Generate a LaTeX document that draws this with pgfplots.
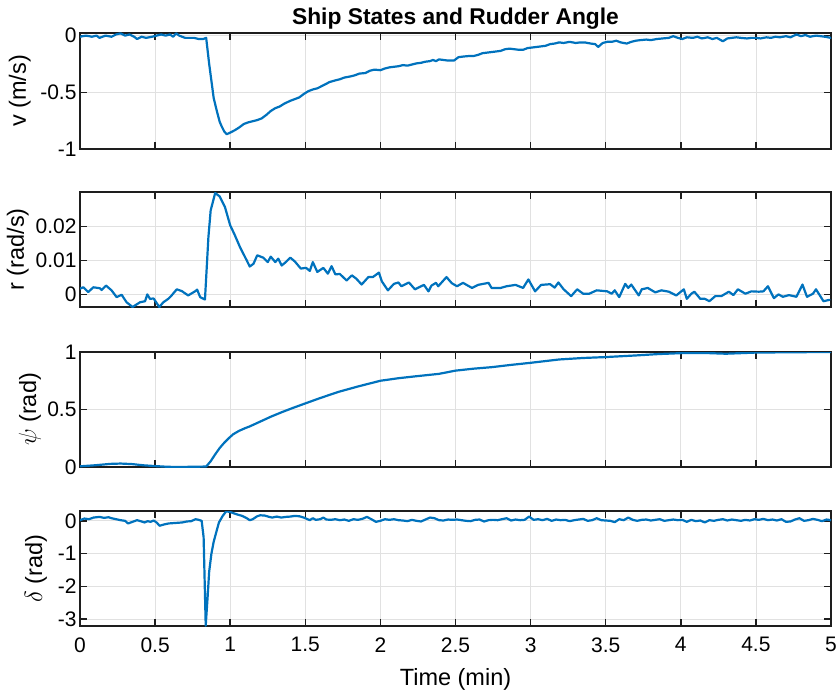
\documentclass[border=0pt]{standalone}
\usepackage{fontspec}
\setmainfont{Liberation Sans}
\usepackage{pgfplots}
\pgfplotsset{compat=1.18}
\definecolor{mblue}{RGB}{0,114,189}
\definecolor{mgrid}{RGB}{225,225,225}
\definecolor{maxis}{RGB}{30,30,30}
\pgfplotsset{
 sline/.style={mblue, line width=2.2pt, line join=round, line cap=round},
 ship/.style={
  scale only axis, width=751pt, height=115pt,
  xmin=0, xmax=5,
  xtick={0,0.5,1,1.5,2,2.5,3,3.5,4,4.5,5},
  grid=major, major grid style={mgrid, line width=0.8pt},
  tick align=inside, major tick length=7pt,
  axis line style={maxis, line width=1.5pt},
  tick style={maxis, line width=1.5pt},
  every tick label/.append style={font=\fontsize{21}{25}\selectfont, text=black},
  xticklabel style={yshift=-8pt},
  label style={font=\fontsize{23.5}{27}\selectfont},
  /pgf/number format/assume math mode=true,
  scaled y ticks=false,
 },
 ylab/.style={ylabel style={at={(axis description cs:#1,0.5)}, anchor=center, rotate=0}},
}
\begin{document}
\begin{tikzpicture}
\useasboundingbox (0,0) rectangle (837pt,689pt);
% ---------------- v ----------------
\begin{axis}[ship, at={(80pt,540pt)}, anchor=south west, height=116pt,
  ymin=-1, ymax=0.023, ytick={-1,-0.5,0}, yticklabels={-1,-0.5,0},
  xticklabels={},
  ylabel={v (m/s)}, ylab=-0.080,
  title={Ship States and Rudder Angle},
  title style={font=\fontsize{22.8}{26}\selectfont\bfseries, at={(0.5,1)}, anchor=base, yshift=2pt}]
\addplot[sline] coordinates {
(0,-0.01) (0.04,0.00) (0.08,-0.01) (0.11,0.00) (0.13,-0.02) (0.17,0.00) (0.21,-0.01) (0.24,0.01)
(0.27,0.02) (0.30,0.00) (0.33,0.01) (0.36,-0.01) (0.38,-0.03) (0.41,-0.01) (0.44,-0.02) (0.48,-0.01)
(0.51,0.00) (0.54,0.01) (0.57,0.00) (0.60,0.01) (0.62,-0.01) (0.64,0.02) (0.66,0.00) (0.70,-0.02)
(0.73,-0.02) (0.76,-0.02) (0.79,-0.03) (0.82,-0.03) (0.84,-0.02) (0.86,-0.25) (0.877,-0.42) (0.89,-0.55)
(0.91,-0.66) (0.93,-0.76) (0.943,-0.80) (0.96,-0.845) (0.977,-0.87) (1.00,-0.855) (1.03,-0.835) (1.06,-0.81)
(1.09,-0.78) (1.12,-0.765) (1.15,-0.755) (1.18,-0.745) (1.21,-0.73) (1.24,-0.70) (1.27,-0.665) (1.30,-0.64)
(1.33,-0.625) (1.36,-0.60) (1.40,-0.575) (1.43,-0.56) (1.46,-0.545) (1.49,-0.515) (1.52,-0.49) (1.55,-0.475)
(1.58,-0.465) (1.61,-0.445) (1.64,-0.425) (1.66,-0.41) (1.70,-0.395) (1.73,-0.385) (1.76,-0.37) (1.80,-0.36)
(1.83,-0.35) (1.86,-0.335) (1.90,-0.33) (1.93,-0.31) (1.96,-0.30) (2.00,-0.305) (2.03,-0.29) (2.06,-0.28)
(2.09,-0.275) (2.12,-0.27) (2.15,-0.26) (2.18,-0.265) (2.21,-0.255) (2.24,-0.245) (2.27,-0.24) (2.30,-0.23)
(2.33,-0.225) (2.35,-0.215) (2.37,-0.225) (2.39,-0.21) (2.42,-0.215) (2.45,-0.22) (2.49,-0.22) (2.52,-0.19)
(2.55,-0.185) (2.59,-0.18) (2.62,-0.18) (2.65,-0.17) (2.68,-0.155) (2.71,-0.15) (2.74,-0.145) (2.77,-0.14)
(2.80,-0.135) (2.83,-0.12) (2.86,-0.115) (2.89,-0.12) (2.92,-0.125) (2.95,-0.125) (2.98,-0.11) (3.01,-0.105)
(3.04,-0.10) (3.07,-0.095) (3.10,-0.09) (3.13,-0.075) (3.16,-0.07) (3.19,-0.06) (3.22,-0.065) (3.26,-0.055)
(3.30,-0.065) (3.33,-0.06) (3.36,-0.06) (3.40,-0.07) (3.43,-0.075) (3.45,-0.10) (3.48,-0.065) (3.51,-0.055)
(3.54,-0.055) (3.57,-0.045) (3.60,-0.06) (3.64,-0.07) (3.67,-0.055) (3.70,-0.045) (3.73,-0.04) (3.77,-0.035)
(3.80,-0.04) (3.84,-0.03) (3.88,-0.025) (3.92,-0.02) (3.95,-0.005) (3.98,-0.02) (4.01,-0.03) (4.04,-0.015)
(4.08,-0.02) (4.11,-0.01) (4.14,-0.025) (4.18,-0.015) (4.21,-0.03) (4.24,-0.02) (4.28,-0.05) (4.31,-0.025)
(4.34,-0.02) (4.37,-0.015) (4.40,-0.02) (4.44,-0.025) (4.47,-0.02) (4.50,-0.02) (4.53,-0.025) (4.57,-0.015)
(4.60,-0.02) (4.63,-0.01) (4.66,-0.015) (4.70,-0.005) (4.73,-0.015) (4.77,0.01) (4.80,-0.005) (4.83,0.005)
(4.86,-0.01) (4.90,0.00) (4.93,-0.005) (4.96,-0.01) (5.00,-0.02)
};
\end{axis}
% ---------------- r ----------------
\begin{axis}[ship, at={(80pt,382pt)}, anchor=south west,
  ymin=-0.0037, ymax=0.0301, ytick={0,0.01,0.02}, yticklabels={0,0.01,0.02},
  xticklabels={},
  ylabel={r (rad/s)}, ylab=-0.083]
\addplot[sline] coordinates {
(0,0.0017) (0.022,0.0021) (0.055,0.0007) (0.089,0.0021) (0.133,0.0018) (0.144,0.0013) (0.173,0.0026) (0.21,0.0012)
(0.244,-0.0008) (0.277,-0.0001) (0.31,-0.0023) (0.35,-0.0037) (0.40,-0.0023) (0.433,-0.0020) (0.448,0.0000) (0.466,-0.0013)
(0.49,-0.0012) (0.528,-0.0037) (0.555,-0.0023) (0.588,-0.0013) (0.61,-0.0003) (0.644,0.0015) (0.677,0.0010) (0.72,-0.0003)
(0.766,0.0009) (0.78,0.0014) (0.80,-0.0008) (0.832,-0.0015) (0.855,0.0169) (0.87,0.0247) (0.90,0.0298) (0.93,0.0288)
(0.965,0.0257) (1.00,0.0203) (1.03,0.0175) (1.065,0.0139) (1.11,0.0100) (1.13,0.0082) (1.155,0.0090) (1.18,0.0115)
(1.22,0.0108) (1.25,0.0095) (1.27,0.0111) (1.30,0.0095) (1.32,0.0105) (1.343,0.0085) (1.37,0.0095) (1.40,0.0108)
(1.43,0.0097) (1.47,0.0076) (1.505,0.0078) (1.53,0.0069) (1.55,0.0095) (1.58,0.0066) (1.62,0.0078) (1.65,0.0061)
(1.675,0.0083) (1.70,0.0059) (1.73,0.0060) (1.775,0.0041) (1.81,0.0056) (1.84,0.0046) (1.875,0.0029) (1.92,0.0051)
(1.95,0.0051) (1.99,0.0064) (2.01,0.0038) (2.05,0.0012) (2.09,0.0031) (2.12,0.0035) (2.14,0.0024) (2.19,0.0035)
(2.23,0.0015) (2.29,0.0028) (2.32,0.0009) (2.34,0.0026) (2.37,0.0034) (2.385,0.0024) (2.44,0.0051) (2.475,0.0033)
(2.51,0.0024) (2.55,0.0034) (2.61,0.0019) (2.65,0.0028) (2.72,0.0034) (2.74,0.0019) (2.80,0.0019) (2.84,0.0024)
(2.90,0.0028) (2.95,0.0019) (2.985,0.0044) (3.03,0.0009) (3.07,0.0028) (3.13,0.0030) (3.16,0.0020) (3.185,0.0035)
(3.22,0.0015) (3.27,-0.0005) (3.31,0.0015) (3.35,0.0002) (3.39,0.0002) (3.44,0.0012) (3.51,0.0009) (3.54,0.0002)
(3.56,0.0012) (3.59,-0.0008) (3.63,0.0031) (3.65,0.0019) (3.67,0.0029) (3.72,-0.0003) (3.74,0.0015) (3.78,0.0019)
(3.83,0.0006) (3.87,0.0012) (3.92,0.0008) (3.97,-0.0003) (4.02,0.0015) (4.04,-0.0013) (4.07,0.0002) (4.09,0.0008)
(4.13,-0.0013) (4.16,-0.0013) (4.19,-0.0020) (4.23,-0.0005) (4.27,-0.0005) (4.32,0.0008) (4.35,-0.0002) (4.38,0.0015)
(4.43,0.0002) (4.47,0.0009) (4.52,0.0008) (4.55,0.0009) (4.58,0.0024) (4.62,-0.0011) (4.65,0.0000) (4.68,-0.0007)
(4.72,-0.0002) (4.77,-0.0007) (4.81,0.0029) (4.84,-0.0007) (4.88,0.0002) (4.90,0.0015) (4.95,-0.0020) (4.99,-0.0016)
};
\end{axis}
% ---------------- psi ----------------
\begin{axis}[ship, at={(80pt,222pt)}, anchor=south west,
  ymin=0, ymax=1, ytick={0,0.5,1}, yticklabels={0,0.5,1},
  xticklabels={},
  ylabel={$\psi$ (rad)}, ylab=-0.0666]
\addplot[sline] coordinates {
(0,0.006) (0.1,0.015) (0.2,0.027) (0.27,0.030) (0.35,0.025) (0.42,0.015) (0.5,0.008) (0.58,0.002)
(0.65,0.000) (0.75,0.002) (0.84,0.004) (0.87,0.05) (0.90,0.11) (0.93,0.165) (0.957,0.206) (0.99,0.25)
(1.02,0.285) (1.06,0.315) (1.10,0.338) (1.13,0.353) (1.20,0.395) (1.275,0.44) (1.35,0.48) (1.42,0.515)
(1.50,0.553) (1.60,0.60) (1.72,0.653) (1.85,0.70) (2.0,0.75) (2.12,0.772) (2.23,0.788) (2.39,0.81)
(2.50,0.838) (2.62,0.855) (2.74,0.868) (2.87,0.888) (3.0,0.906) (3.19,0.935) (3.35,0.948) (3.5,0.956)
(3.70,0.97) (3.85,0.982) (4.0,0.99) (4.15,0.992) (4.30,0.985) (4.5,0.995) (4.75,0.998) (5.0,1.0)
};
\end{axis}
% ---------------- delta ----------------
\begin{axis}[ship, at={(80pt,63pt)}, anchor=south west,
  ymin=-3.21, ymax=0.30, ytick={-3,-2,-1,0}, yticklabels={-3,-2,-1,0},
  xticklabels={0,0.5,1,1.5,2,2.5,3,3.5,4,4.5,5},
  ylabel={$\delta$ (rad)}, ylab=-0.0586,
  xlabel={Time (min)},
  xlabel style={at={(0.5,0)}, anchor=base, yshift=-59pt}]
\addplot[sline] coordinates {
(0,0.02) (0.03,0.07) (0.06,0.05) (0.09,0.10) (0.13,0.12) (0.16,0.09) (0.19,0.11) (0.21,0.08)
(0.24,0.05) (0.27,0.02) (0.30,0.00) (0.32,-0.08) (0.35,-0.03) (0.38,0.02) (0.41,-0.02) (0.43,-0.05)
(0.45,-0.01) (0.47,-0.03) (0.49,0.01) (0.51,-0.05) (0.53,-0.15) (0.56,-0.11) (0.59,-0.08) (0.62,-0.07)
(0.65,-0.06) (0.68,-0.05) (0.71,-0.02) (0.74,-0.01) (0.77,0.05) (0.79,0.03) (0.81,0.00) (0.823,-0.5)
(0.837,-3.2) (0.85,-2.3) (0.86,-1.55) (0.875,-1.0) (0.89,-0.64) (0.91,-0.30) (0.925,-0.05) (0.95,0.15)
(0.973,0.29) (1.00,0.27) (1.03,0.22) (1.05,0.19) (1.08,0.15) (1.11,0.08) (1.13,0.02) (1.15,0.05)
(1.18,0.14) (1.20,0.17) (1.23,0.16) (1.26,0.12) (1.28,0.10) (1.31,0.13) (1.34,0.10) (1.37,0.12)
(1.40,0.13) (1.43,0.15) (1.46,0.14) (1.49,0.10) (1.51,0.06) (1.53,0.02) (1.55,0.08) (1.57,0.03)
(1.60,0.05) (1.62,0.10) (1.64,0.04) (1.67,0.03) (1.70,0.05) (1.73,0.02) (1.76,0.04) (1.79,0.00)
(1.82,0.05) (1.85,0.03) (1.88,0.06) (1.91,0.12) (1.94,0.05) (1.97,-0.03) (2.00,0.00) (2.03,0.05)
(2.06,0.03) (2.09,0.05) (2.12,0.02) (2.15,0.01) (2.18,-0.01) (2.21,0.03) (2.24,0.00) (2.27,-0.02)
(2.30,0.04) (2.33,0.10) (2.36,0.08) (2.39,0.02) (2.42,0.01) (2.45,0.04) (2.48,0.03) (2.51,0.04)
(2.54,0.02) (2.57,0.00) (2.60,-0.01) (2.63,0.03) (2.66,0.04) (2.69,-0.02) (2.72,0.02) (2.75,0.03)
(2.78,0.02) (2.81,0.05) (2.84,0.08) (2.87,0.01) (2.90,0.04) (2.93,0.02) (2.96,0.03) (2.99,0.13)
(3.02,0.03) (3.05,0.05) (3.08,0.02) (3.11,0.06) (3.14,0.00) (3.17,0.04) (3.20,0.02) (3.23,0.03)
(3.26,-0.01) (3.29,0.02) (3.32,0.04) (3.35,0.06) (3.38,0.00) (3.41,0.02) (3.44,0.08) (3.47,0.02)
(3.50,0.01) (3.53,0.00) (3.56,-0.04) (3.59,0.05) (3.62,0.02) (3.65,0.10) (3.68,0.03) (3.71,0.00)
(3.74,0.03) (3.77,0.04) (3.80,0.01) (3.83,0.03) (3.86,0.05) (3.89,0.00) (3.92,0.02) (3.95,0.04)
(3.98,0.02) (4.01,0.03) (4.04,-0.03) (4.07,0.03) (4.10,-0.01) (4.13,0.01) (4.16,-0.05) (4.19,0.02)
(4.22,0.00) (4.25,0.03) (4.28,0.05) (4.31,0.01) (4.34,0.04) (4.37,0.02) (4.40,0.00) (4.43,0.03)
(4.46,0.01) (4.49,0.05) (4.52,0.03) (4.55,0.06) (4.58,0.02) (4.61,0.04) (4.64,0.01) (4.67,0.05)
(4.70,-0.03) (4.73,-0.02) (4.76,0.04) (4.79,0.08) (4.82,0.00) (4.85,0.02) (4.88,0.06) (4.91,0.03)
(4.94,-0.01) (4.97,0.04) (5.00,0.02)
};
\end{axis}
\end{tikzpicture}
\end{document}
